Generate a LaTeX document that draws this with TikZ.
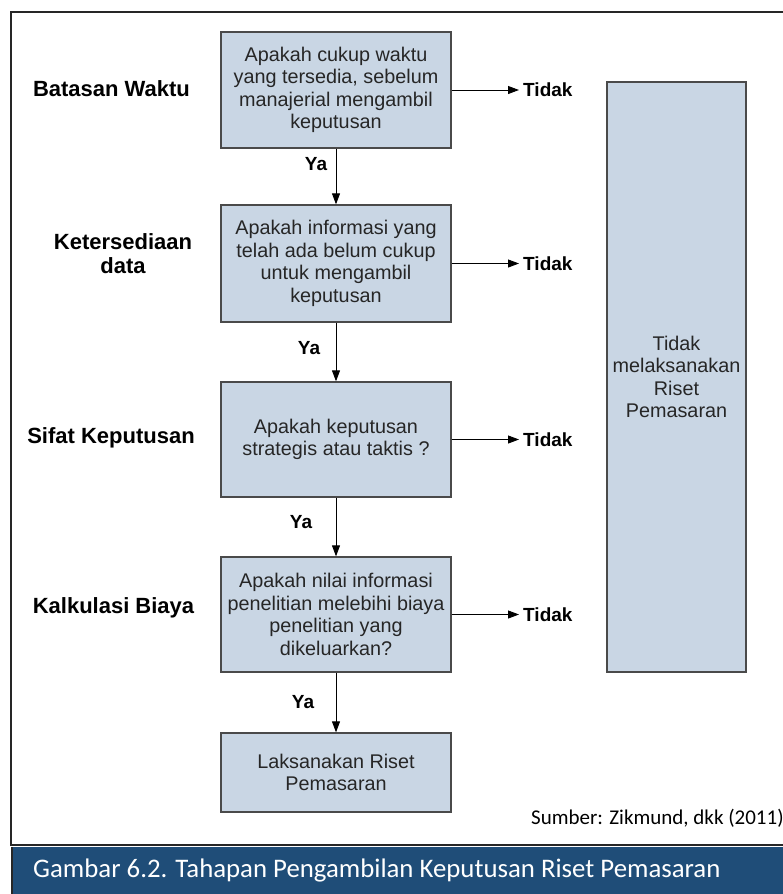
\documentclass[tikz,border=0pt]{standalone}
\usepackage{fontspec}
\setmainfont{Liberation Sans}
\newfontfamily\calib{Carlito}
\usetikzlibrary{arrows.meta}
\definecolor{boxfill}{HTML}{C9D6E4}
\definecolor{boxline}{HTML}{4A4A4A}
\definecolor{boxtext}{HTML}{262626}
\definecolor{barblue}{HTML}{1F4D78}
\tikzset{
  stepbox/.style={draw=boxline, line width=1.3pt, fill=boxfill, minimum width=230pt,
    inner sep=0pt, align=center, text=boxtext, font=\fontsize{19.8}{22.5}\selectfont},
  sidelabel/.style={align=center, inner sep=0pt, font=\fontsize{22}{24}\selectfont\bfseries},
  answer/.style={inner sep=0pt, font=\fontsize{19}{20}\selectfont\bfseries},
  flow/.style={line width=0.9pt, -{Triangle[length=11pt, width=8pt]}},
}
\begin{document}
\begin{tikzpicture}[x=1pt, y=-1pt]
\useasboundingbox (0,0) rectangle (783,894);
\clip (0,0) rectangle (783,894);
\fill[white] (0,0) rectangle (783,894);

% outer frame and caption bar
\draw[line width=1.5pt, black!85] (11,12) rectangle (820,845);
\fill[barblue] (12,847) rectangle (820,900);
\draw[line width=1.5pt, black!85] (12,847) -- (12,900);

% decision steps
\node[stepbox, minimum height=116pt] (b1) at (336,90)
  {Apakah cukup waktu\\yang tersedia, sebelum\\manajerial mengambil\\keputusan};
\node[stepbox, minimum height=117pt] (b2) at (336,263.5)
  {Apakah informasi yang\\telah ada belum cukup\\untuk mengambil\\keputusan};
\node[stepbox, minimum height=115pt] (b3) at (336,439.5)
  {Apakah keputusan\\strategis atau taktis ?};
\node[stepbox, minimum height=115pt] (b4) at (336,614.5)
  {Apakah nilai informasi\\penelitian melebihi biaya\\penelitian yang\\dikeluarkan?};
\node[stepbox, minimum height=79pt] (b5) at (336,772.5)
  {Laksanakan Riset\\Pemasaran};

% outcome box on the right
\node[stepbox, minimum width=139pt, minimum height=590pt] (no) at (676.5,377)
  {Tidak\\melaksanakan\\Riset\\Pemasaran};

% criteria labels
\node[sidelabel] (l1) at (111.5,89) {Batasan Waktu};
\node[sidelabel] (l2) at (123,254) {Ketersediaan\\data};
\node[sidelabel] (l3) at (111,438) {Sifat Keputusan};
\node[sidelabel] (l4) at (113.5,608) {Kalkulasi Biaya};

% "Tidak" exits, level with each box centre
\node[answer, anchor=west] (t1) at (523,90) {Tidak};
\node[answer, anchor=west] (t2) at (523,263.5) {Tidak};
\node[answer, anchor=west] (t3) at (523,439.5) {Tidak};
\node[answer, anchor=west] (t4) at (523,614.5) {Tidak};
\draw[flow] (b1.east) -- ([xshift=-4pt]t1.west);
\draw[flow] (b2.east) -- ([xshift=-4pt]t2.west);
\draw[flow] (b3.east) -- ([xshift=-4pt]t3.west);
\draw[flow] (b4.east) -- ([xshift=-4pt]t4.west);

% "Ya" continuations
\draw[flow] (b1.south) -- (b2.north);
\draw[flow] (b2.south) -- (b3.north);
\draw[flow] (b3.south) -- (b4.north);
\draw[flow] (b4.south) -- (b5.north);
\node[answer] (y1) at (316,164) {Ya};
\node[answer] (y2) at (309,348) {Ya};
\node[answer] (y3) at (301,522) {Ya};
\node[answer] (y4) at (303,702) {Ya};

% source and caption
\node[anchor=base west, inner sep=0pt, font=\calib\fontsize{21}{24}\selectfont] (src) at (531,824)
  {Sumber: Zikmund, dkk (2011)};
\node[anchor=base west, inner sep=0pt, text=white, font=\calib\fontsize{26.8}{30}\selectfont] (cap) at (33,877)
  {Gambar 6.2. Tahapan Pengambilan Keputusan Riset Pemasaran};
\end{tikzpicture}
\end{document}
